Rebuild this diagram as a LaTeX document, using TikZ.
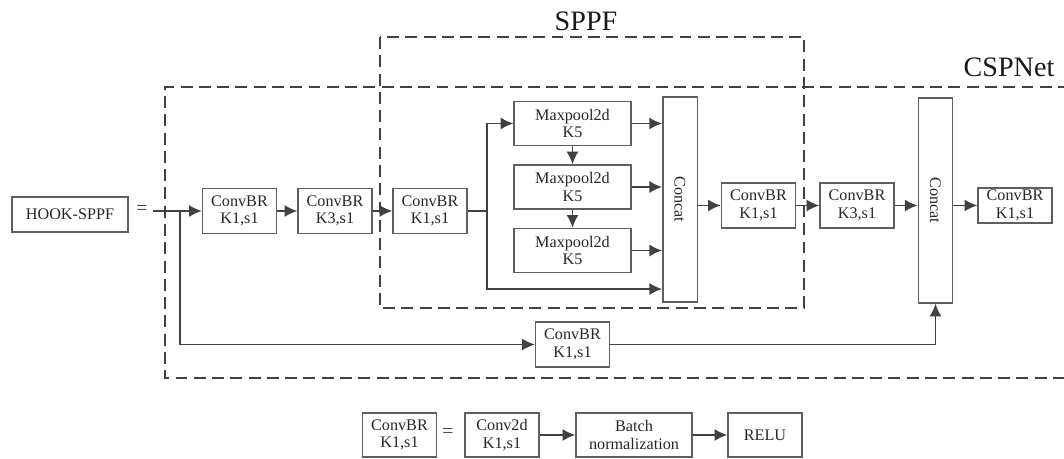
\documentclass[tikz,border=0pt]{standalone}
\usepackage{fontspec}
\setmainfont{Liberation Serif}
\usetikzlibrary{arrows.meta}
\definecolor{linegray}{RGB}{65,65,65}
\definecolor{boxgray}{RGB}{95,95,95}
\tikzset{
	blk/.style = {draw=boxgray, line width=1pt, inner sep=0pt, align=center,
			font=\fontsize{11.5}{12.5}\selectfont, text=black!85},
	convbox/.style = {blk, minimum width=1.85cm, minimum height=1.12cm},
	poolbox/.style = {blk, minimum width=2.92cm, minimum height=1.1cm},
	catbox/.style = {blk, minimum width=0.86cm, minimum height=5.12cm},
	arr/.style = {-{Latex[length=9pt,width=8.5pt]}, draw=linegray, line width=1.2pt},
	wire/.style = {draw=linegray, line width=1.2pt},
	dashbox/.style = {draw=linegray, line width=1.3pt, dash pattern=on 8.5pt off 4.5pt},
	biglabel/.style = {font=\fontsize{20}{22}\selectfont, text=black!90},
	eqsign/.style = {font=\fontsize{14}{14}\selectfont, text=black!75},
}
\begin{document}
\begin{tikzpicture}[x=0.025cm, y=-0.025cm]
	\useasboundingbox (0,0) rectangle (1064,459);
	% dashed groups
	\draw[dashbox] (1070,87) -- (165,87) -- (165,378) -- (1070,378);
	\draw[dashbox] (380,37) rectangle (804,308);
	\node[biglabel] (lblsppf) at (586,21) {SPPF};
	\node[biglabel] (lblcsp) at (1009,67) {CSPNet};

	% main row
	\node[blk, minimum width=2.9cm, minimum height=0.88cm] (hook) at (70,214.5) {HOOK-SPPF};
	\node[eqsign] (eqa) at (142,210) {=};
	\coordinate (in) at (153,211);
	\coordinate (split) at (180,211);
	\node[convbox] (cbra) at (239.5,211) {ConvBR\\K1,s1};
	\node[convbox] (cbrb) at (335,211) {ConvBR\\K3,s1};
	\node[convbox] (cbrc) at (430,211) {ConvBR\\K1,s1};
	\coordinate (fork) at (487,211);
	\node[poolbox] (mpa) at (572.5,123.5) {Maxpool2d\\K5};
	\node[poolbox] (mpb) at (572.5,187) {Maxpool2d\\K5};
	\node[poolbox] (mpc) at (572.5,250.5) {Maxpool2d\\K5};
	\node[catbox] (cata) at (680,199.5) {};
	\node[blk, draw=none, rotate=-90] (cattxta) at (cata) {Concat};
	\coordinate (low) at (cata.west |- 0,289);
	\node[convbox] (cbrd) at (758.5,205.5) {ConvBR\\K1,s1};
	\node[convbox] (cbre) at (857,205.5) {ConvBR\\K3,s1};
	\node[catbox] (catb) at (935.5,200.5) {};
	\node[blk, draw=none, rotate=-90] (cattxtb) at (catb) {Concat};
	\node[convbox, minimum height=0.88cm] (cbrf) at (1015,205.5) {ConvBR\\K1,s1};
	\node[convbox] (cbrg) at (572.5,344.5) {ConvBR\\K1,s1};

	\draw[arr] (in) -- (cbra);
	\draw[arr] (split) |- (cbrg);
	\draw[arr] (cbra) -- (cbrb);
	\draw[arr] (cbrb) -- (cbrc);
	\draw[wire] (cbrc) -- (fork);
	\draw[arr] (fork) |- (mpa);
	\draw[arr] (fork) |- (low);
	\draw[arr] (mpa) -- (mpb);
	\draw[arr] (mpb) -- (mpc);
	\draw[arr] (mpa) -- (mpa -| cata.west);
	\draw[arr] (mpb) -- (mpb -| cata.west);
	\draw[arr] (mpc) -- (mpc -| cata.west);
	\draw[arr] (cata.east |- cbrd) -- (cbrd);
	\draw[arr] (cbrd) -- (cbre);
	\draw[arr] (cbre) -- (cbre -| catb.west);
	\draw[arr] (catb.east |- cbrf) -- (cbrf);
	\draw[arr] (cbrg) -| (catb.south);

	% legend
	\node[convbox, minimum height=1.1cm] (lgcbr) at (399.5,435) {ConvBR\\K1,s1};
	\node[eqsign] (eqb) at (448,433) {=};
	\node[convbox, minimum height=1.1cm] (lgconv) at (502,435) {Conv2d\\K1,s1};
	\node[convbox, minimum width=2.9cm, minimum height=1.1cm] (lgbn) at (634,435) {Batch\\normalization};
	\node[convbox, minimum height=1.1cm] (lgrelu) at (765,435) {RELU};
	\draw[arr] (lgconv) -- (lgbn);
	\draw[arr] (lgbn) -- (lgrelu);
\end{tikzpicture}
\end{document}
